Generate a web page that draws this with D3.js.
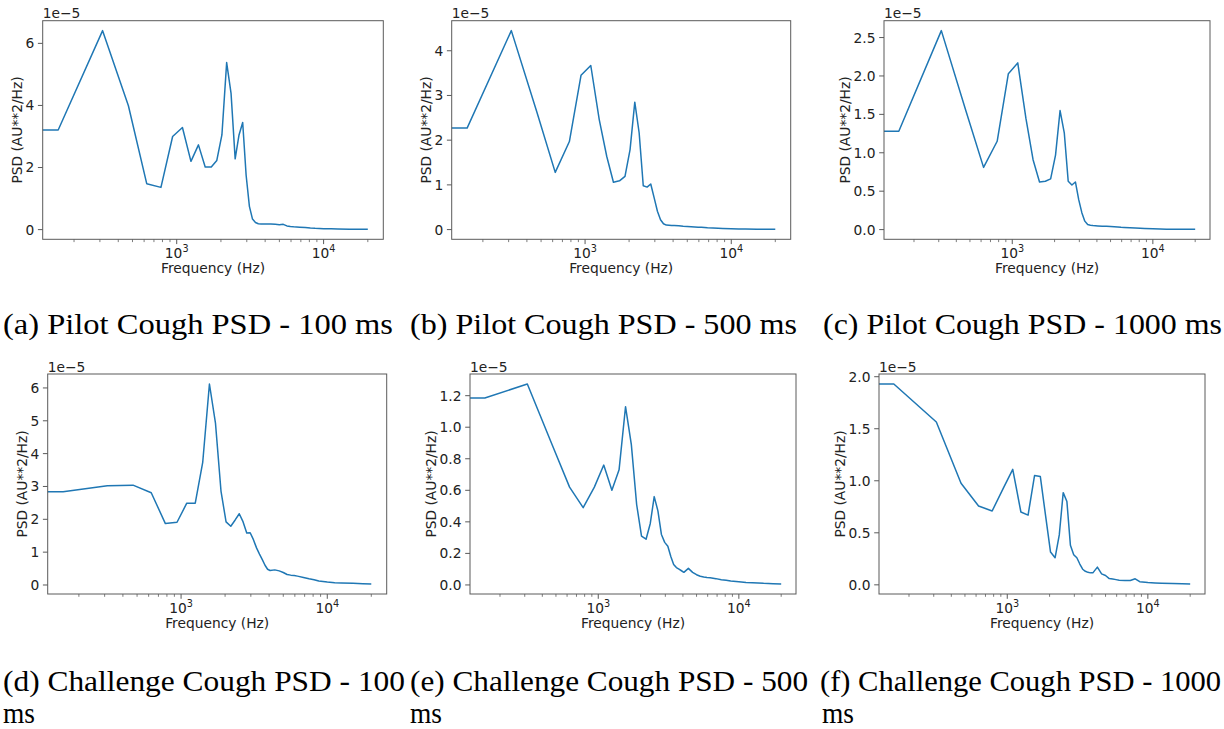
<!DOCTYPE html>
<html><head><meta charset="utf-8">
<script src="https://cdn.jsdelivr.net/npm/d3@7"></script>
<style>body{margin:0;background:#fff}svg{display:block}</style>
</head><body><svg id="c" width="1224" height="729"></svg>
<script>
// Frequency bins (Hz); 0 Hz is the DC bin (clipped on the log axis)
const freqHz = [0,156,313,469,625,781,938,1094,1250,1406,1563,1719,1875,2031,2188,2344,2500,2656,2813,2969,3125,3281,3438,3594,3750,3906,4063,
  4375,4688,5000,5313,5625,5938,6250,6875,7500,8125,8750,10000,11250,12500,15000,17500,20000];

// PSD values in units of 1e-5 AU**2/Hz
const psdPilot100 = [3.21,3.21,6.41,3.99,1.48,1.36,3.00,3.29,2.20,2.73,2.02,2.02,2.23,3.05,5.38,4.39,2.28,3.05,3.45,1.75,0.75,0.34,0.23,0.19,0.18,0.18,0.18,
  0.18,0.17,0.16,0.17,0.12,0.10,0.09,0.08,0.07,0.05,0.04,0.03,0.025,0.02,0.015,0.01,0.008];
const psdPilot500 = [2.27,2.27,4.45,2.62,1.28,1.97,3.45,3.67,2.46,1.64,1.06,1.09,1.19,1.79,2.85,2.16,0.98,0.95,1.02,0.71,0.41,0.22,0.13,0.10,0.095,0.09,0.09,
  0.085,0.075,0.07,0.065,0.06,0.055,0.05,0.04,0.035,0.03,0.025,0.02,0.015,0.012,0.008,0.006,0.005];
const psdPilot1000 = [1.28,1.28,2.59,1.54,0.81,1.15,2.03,2.17,1.45,0.91,0.62,0.63,0.66,0.97,1.55,1.26,0.63,0.58,0.62,0.39,0.22,0.11,0.065,0.056,0.052,0.05,0.048,
  0.045,0.042,0.04,0.037,0.034,0.03,0.028,0.024,0.02,0.017,0.014,0.01,0.008,0.006,0.005,0.004,0.003];
const psdChallenge100 = [2.84,2.84,3.02,3.04,2.81,1.87,1.91,2.49,2.49,3.73,6.12,4.93,2.86,1.92,1.79,1.98,2.17,1.92,1.58,1.59,1.38,1.13,0.94,0.77,0.60,0.48,0.44,
  0.46,0.43,0.38,0.32,0.30,0.29,0.27,0.23,0.19,0.16,0.12,0.09,0.07,0.06,0.05,0.04,0.03];
const psdChallenge500 = [1.185,1.185,1.274,0.89,0.62,0.49,0.62,0.76,0.60,0.73,1.13,0.89,0.51,0.31,0.29,0.39,0.56,0.47,0.32,0.27,0.245,0.18,0.13,0.11,0.10,0.09,0.08,
  0.105,0.08,0.065,0.055,0.05,0.047,0.045,0.04,0.033,0.03,0.025,0.02,0.016,0.014,0.01,0.008,0.006];
const psdChallenge1000 = [1.93,1.93,1.565,0.976,0.757,0.71,0.93,1.11,0.70,0.67,1.05,1.04,0.66,0.315,0.26,0.48,0.886,0.80,0.38,0.29,0.26,0.20,0.15,0.13,0.12,0.115,0.115,
  0.17,0.105,0.09,0.06,0.055,0.05,0.045,0.042,0.042,0.058,0.03,0.022,0.018,0.015,0.012,0.01,0.008];

// Tick labels
const yTicksPilot100 = ["0","2","4","6"];
const yTicksPilot500 = ["0","1","2","3","4"];
const yTicksPilot1000 = ["0.0","0.5","1.0","1.5","2.0","2.5"];
const yTicksChallenge100 = ["0","1","2","3","4","5","6"];
const yTicksChallenge500 = ["0.0","0.2","0.4","0.6","0.8","1.0","1.2"];
const yTicksChallenge1000 = ["0.0","0.5","1.0","1.5","2.0"];
const xTickExponents = ["3","4"];

const xLabel = "Frequency (Hz)";
const yLabel = "PSD (AU**2/Hz)";
const offsetLabel = "1e\u22125";

const captionsTop = ["(a) Pilot Cough PSD - 100 ms","(b) Pilot Cough PSD - 500 ms","(c) Pilot Cough PSD - 1000 ms"];
const captionsBottom = ["(d) Challenge Cough PSD - 100","(e) Challenge Cough PSD - 500","(f) Challenge Cough PSD - 1000"];
const captionsBottom2 = ["ms","ms","ms"];

// Layout (pixels)
const layout = [
  {l:42.7, r:383.3, t:20.7, b:239.3},
  {l:451.7, r:790.7, t:20.7, b:239.3},
  {l:884, r:1210, t:20.7, b:239.3},
  {l:47.7, r:386.7, t:374, b:594},
  {l:470, r:796, t:374, b:594},
  {l:879, r:1205, t:374, b:594}
];
const series = [psdPilot100, psdPilot500, psdPilot1000, psdChallenge100, psdChallenge500, psdChallenge1000];
const yTicks = [yTicksPilot100, yTicksPilot500, yTicksPilot1000, yTicksChallenge100, yTicksChallenge500, yTicksChallenge1000];

const svg = d3.select("#c");
const FONT = "'DejaVu Sans', sans-serif";
const FS = 13.8;
const TXT = "#222";
const SPINE = "#5a5a5a";
const LINE = "#1f77b4";

series.forEach((vals, i) => {
  const L = layout[i];
  const data = freqHz.map((f, j) => ({f, v: vals[j]}));
  const pos = freqHz.filter(f => f > 0);
  const a = Math.log10(d3.min(pos)), b = Math.log10(d3.max(pos));
  const m = (b - a) * 0.05;
  const x = d3.scaleLog().domain([Math.pow(10, a - m), Math.pow(10, b + m)]).range([L.l, L.r]);
  const ext = d3.extent(vals);
  const ym = (ext[1] - ext[0]) * 0.05;
  const y = d3.scaleLinear().domain([ext[0] - ym, ext[1] + ym]).range([L.b, L.t]);

  const g = svg.append("g");
  const cid = "clip" + i;
  g.append("clipPath").attr("id", cid).append("rect")
    .attr("x", L.l).attr("y", L.t).attr("width", L.r - L.l).attr("height", L.b - L.t);

  const line = d3.line()
    .x(d => d.f > 0 ? x(d.f) : x.range()[0] - 5000)
    .y(d => y(d.v));
  g.append("path").datum(data).attr("clip-path", `url(#${cid})`)
    .attr("d", line).attr("fill", "none").attr("stroke", LINE)
    .attr("stroke-width", 1.5).attr("stroke-linejoin", "round");

  // frame
  g.append("rect").attr("x", L.l).attr("y", L.t).attr("width", L.r - L.l).attr("height", L.b - L.t)
    .attr("fill", "none").attr("stroke", SPINE).attr("stroke-width", 1);

  // x ticks
  const allT = x.ticks();
  const majors = allT.filter(t => Math.abs(Math.log10(t) - Math.round(Math.log10(t))) < 1e-9);
  const minors = allT.filter(t => !majors.includes(t));
  g.selectAll(".xmin").data(minors).enter().append("line")
    .attr("x1", d => x(d)).attr("x2", d => x(d)).attr("y1", L.b).attr("y2", L.b + 2.8)
    .attr("stroke", SPINE).attr("stroke-width", 0.8);
  g.selectAll(".xmaj").data(majors).enter().append("line")
    .attr("x1", d => x(d)).attr("x2", d => x(d)).attr("y1", L.b).attr("y2", L.b + 4.8)
    .attr("stroke", SPINE).attr("stroke-width", 1);
  majors.forEach((t, k) => {
    const tx = g.append("text").attr("x", x(t)).attr("y", L.b + 18.5)
      .attr("text-anchor", "middle").attr("font-family", FONT).attr("font-size", FS).attr("fill", TXT);
    tx.append("tspan").text("10");
    tx.append("tspan").attr("dy", -6).attr("font-size", FS * 0.7).text(xTickExponents[k]);
  });

  // y ticks
  let maxW = 0;
  yTicks[i].forEach(lbl => {
    const v = +lbl;
    g.append("line").attr("x1", L.l - 4.8).attr("x2", L.l).attr("y1", y(v)).attr("y2", y(v))
      .attr("stroke", SPINE).attr("stroke-width", 1);
    const t = g.append("text").attr("x", L.l - 8.5).attr("y", y(v)).attr("dy", "0.36em")
      .attr("text-anchor", "end").attr("font-family", FONT).attr("font-size", FS).attr("fill", TXT).text(lbl);
    maxW = Math.max(maxW, t.node().getComputedTextLength());
  });

  // offset text
  g.append("text").attr("x", L.l).attr("y", L.t - 2.5).attr("font-family", FONT).attr("font-size", FS)
    .attr("fill", TXT).text(offsetLabel);

  // axis labels
  g.append("text").attr("x", (L.l + L.r) / 2).attr("y", L.b + 33.5).attr("text-anchor", "middle")
    .attr("font-family", FONT).attr("font-size", FS).attr("fill", TXT).text(xLabel);
  const lx = L.l - (16.5 + maxW);
  g.append("text").attr("transform", `translate(${lx},${(L.t + L.b) / 2}) rotate(-90)`)
    .attr("text-anchor", "middle").attr("dy", "0.35em")
    .attr("font-family", FONT).attr("font-size", FS).attr("fill", TXT).text(yLabel);
});

// captions
const CFONT = "'Liberation Serif', 'Times New Roman', serif";
const CFS = 28.5;
const capTopPos = [{x:3, w:390}, {x:410, w:387}, {x:823, w:399}];
const capBotPos = [{x:3, w:402}, {x:410, w:398}, {x:820, w:401}];
const capMsW = 32;
captionsTop.forEach((c, k) => {
  svg.append("text").attr("x", capTopPos[k].x).attr("y", 334).attr("font-family", CFONT).attr("font-size", CFS)
    .attr("fill", "#000").attr("textLength", capTopPos[k].w).attr("lengthAdjust", "spacingAndGlyphs").text(c);
});
captionsBottom.forEach((c, k) => {
  svg.append("text").attr("x", capBotPos[k].x).attr("y", 691).attr("font-family", CFONT).attr("font-size", CFS)
    .attr("fill", "#000").attr("textLength", capBotPos[k].w).attr("lengthAdjust", "spacingAndGlyphs").text(c);
  svg.append("text").attr("x", capBotPos[k].x + (k === 2 ? 2 : 0)).attr("y", 723).attr("font-family", CFONT).attr("font-size", CFS)
    .attr("fill", "#000").attr("textLength", capMsW).attr("lengthAdjust", "spacingAndGlyphs").text(captionsBottom2[k]);
});
</script></body></html>
